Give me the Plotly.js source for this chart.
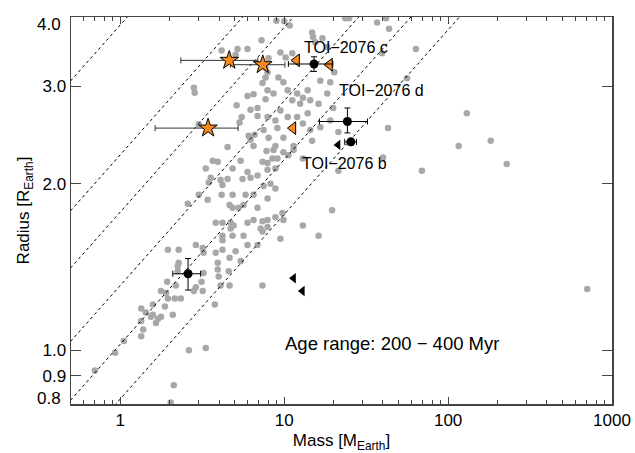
<!DOCTYPE html>
<html>
<head>
<meta charset="utf-8">
<script src="https://cdn.plot.ly/plotly-3.0.1.min.js"></script>
<style>html,body{margin:0;padding:0;background:#fff;}#chart{width:635px;height:453px;}</style>
</head>
<body>
<div id="chart"></div>
<script>
// Comparison sample (gray)
const grayMass = [
4.15,5.19,5.97,5.05,2.81,2.84,5.97,6.50,5.12,6.23,6.87,5.50,6.87,5.34,3.01,6.06,6.59,6.23,
7.27,8.96,10.0,10.8,23.6,24.9,14.8,15.0,15.5,17.1,18.3,9.48,10.2,11.2,8.02,7.69,7.91,7.69,7.37,7.91,7.69,9.22,9.89,8.60,10.5,12.0,11.2,13.0,12.5,14.4,16.2,13.9,18.3,16.6,19.1,9.48,7.91,8.84,10.5,12.0,13.9,13.0,9.09,7.48,14.4,16.6,8.02,9.89,19.1,20.2,19.9,21.4,
36.9,41.8,43.6,39.5,63.6,56.1,130,43.0,116,182,40.1,69.2,228,706,
4.51,6.50,3.66,3.93,5.42,3.32,4.84,5.97,6.23,6.87,5.57,3.56,4.09,4.51,4.20,3.46,3.01,3.41,4.15,4.84,5.81,6.50,2.58,4.64,4.84,5.27,5.65,6.87,3.82,4.20,4.71,4.91,4.71,5.97,6.50,4.20,4.84,5.65,4.20,6.87,2.89,3.18,3.22,1.95,2.27,3.82,4.20,5.05,5.97,
8.84,11.4,11.4,14.8,7.80,8.60,9.89,10.6,8.48,9.09,7.37,7.91,7.91,8.84,13.0,21.4,8.25,7.48,8.84,7.91,19.6,9.75,8.84,7.91,7.37,9.89,7.91,7.17,7.37,13.0,16.2,9.48,
2.24,2.24,2.18,1.93,1.77,1.90,1.95,2.15,2.34,1.87,1.58,1.34,1.43,1.58,1.54,1.70,1.77,2.09,1.34,1.65,1.38,1.34,1.05,0.93,0.70,2.62,3.32,2.12,2.03,2.89,3.13,3.18,2.81,2.27,3.22,
4.64,3.93,3.93,4.58,4.09,4.64,7.37,3.77,5.42,3.98
];
const grayRadius = [
3.48,3.50,3.50,3.42,2.98,2.92,2.88,2.90,2.77,2.72,2.74,2.64,2.65,2.58,2.56,2.44,2.45,2.40,
3.63,3.94,3.93,3.86,3.98,3.98,3.75,3.68,3.60,3.66,3.53,3.45,3.38,3.44,3.37,3.24,3.18,3.11,3.04,2.95,2.84,3.11,3.05,2.91,2.95,2.91,2.83,2.86,2.79,2.83,2.79,2.95,2.91,3.07,3.05,2.71,2.64,2.60,2.64,2.64,2.68,2.57,2.52,2.50,2.50,2.53,2.42,2.42,2.60,3.18,2.74,2.48,
3.91,3.98,3.81,3.44,3.50,3.10,2.68,2.52,2.34,2.39,2.23,2.11,2.17,1.29,
2.33,2.34,2.20,2.19,2.20,2.13,2.13,2.10,2.05,2.07,2.04,2.05,2.03,2.04,1.99,2.01,1.91,1.87,1.91,1.91,1.91,1.91,1.84,1.83,1.81,1.81,1.83,1.81,1.70,1.70,1.70,1.68,1.66,1.70,1.72,1.61,1.61,1.61,1.58,1.55,1.55,1.53,1.50,1.52,1.52,1.50,1.52,1.51,1.55,
2.34,2.34,2.30,2.39,2.29,2.30,2.28,2.25,2.22,2.22,2.19,2.18,2.12,2.13,2.22,2.11,2.00,1.98,1.96,1.88,1.79,1.77,1.74,1.72,1.71,1.72,1.67,1.66,1.64,1.68,1.61,1.59,
1.42,1.39,1.31,1.33,1.28,1.27,1.24,1.24,1.24,1.20,1.21,1.19,1.17,1.16,1.15,1.14,1.15,1.16,1.13,1.12,1.09,1.06,1.04,0.99,0.92,1.00,1.01,0.865,0.805,1.30,1.33,1.28,1.28,1.44,1.38,
1.47,1.44,1.40,1.39,1.31,1.31,1.31,1.21,1.45,1.36
];

// Constant-density lines (g/cm^3)
const densities = [0.095, 0.48, 0.98, 2.45, 5.1, 10.1];
const earthDensity = 5.51;
const lineMassEnds = [0.3, 2000];

// Orange stars with mass errors
const starMass = [4.62, 7.40, 3.43];
const starRadius = [3.34, 3.28, 2.52];
const starMassErr = [2.28, 2.70, 1.80];

// Orange upper limits
const orangeLimMass = [11.9, 18.9, 11.3];
const orangeLimRadius = [3.34, 3.28, 2.52];

// Black upper limits
const blackLimMass = [21.3, 11.4, 12.9];
const blackLimRadius = [2.35, 1.35, 1.28];

// Black circles: TOI-2076 c, d, b and one more planet
const circleMass = [15.2, 24.3, 25.5, 2.59];
const circleMassErr = [4.6, 7.9, 2.1, 0.5];
const circleRadius = [3.29, 2.59, 2.38, 1.375];
const circleRadiusErrPlus = [0.10, 0.15, 0.03, 0.09];
const circleRadiusErrMinus = [0.10, 0.12, 0.03, 0.09];

const xTickVals = [1, 10, 100, 1000];
const xTickText = ['1', '10', '100', '1000'];
const yTickVals = [0.8, 0.9, 1.0, 2.0, 3.0, 4.0];
const yTickText = ['', '0.9', '1.0', '2.0', '3.0', ''];   // end labels drawn inset below
const yEndLabels = ['0.8', '4.0'];

const FONT = 'Liberation Sans, Arial, Helvetica, sans-serif';
const AXC = '#444';

const traces = [];
traces.push({
  x: grayMass, y: grayRadius, type: 'scatter', mode: 'markers',
  marker: {color: '#a8a8a8', size: 6.5}, hoverinfo: 'skip', showlegend: false
});
densities.forEach(function(rho){
  const k = rho / earthDensity;
  traces.push({
    x: lineMassEnds, y: lineMassEnds.map(function(m){ return Math.cbrt(m / k); }),
    type: 'scatter', mode: 'lines',
    line: {color: '#000', width: 1, dash: '3px,3px'}, hoverinfo: 'skip', showlegend: false
  });
});
traces.push({
  x: starMass, y: starRadius, type: 'scatter', mode: 'markers',
  error_x: {type: 'data', array: starMassErr, color: '#333', thickness: 1, width: 3},
  marker: {symbol: 'star', size: 14, color: '#f7891f', line: {color: '#000', width: 1}},
  showlegend: false
});
traces.push({
  x: orangeLimMass, y: orangeLimRadius, type: 'scatter', mode: 'markers',
  marker: {symbol: 'triangle-left', size: 11, color: '#f7891f', line: {color: '#000', width: 1}},
  showlegend: false
});
traces.push({
  x: blackLimMass, y: blackLimRadius, type: 'scatter', mode: 'markers',
  marker: {symbol: 'triangle-left', size: 9, color: '#000'},
  showlegend: false
});
traces.push({
  x: circleMass, y: circleRadius, type: 'scatter', mode: 'markers',
  error_x: {type: 'data', array: circleMassErr, color: '#000', thickness: 1, width: 3},
  error_y: {type: 'data', array: circleRadiusErrPlus, arrayminus: circleRadiusErrMinus, color: '#000', thickness: 1, width: 3},
  marker: {symbol: 'circle', size: 9, color: '#000'},
  showlegend: false
});
// empty traces so the mirrored top / right axes get drawn
traces.push({x: [], y: [], xaxis: 'x2', yaxis: 'y', type: 'scatter', mode: 'markers', showlegend: false, hoverinfo: 'skip'});
traces.push({x: [], y: [], xaxis: 'x', yaxis: 'y2', type: 'scatter', mode: 'markers', showlegend: false, hoverinfo: 'skip'});

function minorVals(){
  const v = [];
  [0.1, 1, 10, 100].forEach(function(d){ for (let i = 2; i <= 9; i++) v.push(i * d); });
  return v;
}

const xRange = [Math.log10(0.5), 3];
const yRange = [Math.log10(0.8), Math.log10(4)];
const tickFont = {family: FONT, size: 17, color: '#000'};

const layout = {
  width: 635, height: 453,
  margin: {l: 71, r: 23, t: 17, b: 49},
  paper_bgcolor: '#fff', plot_bgcolor: '#fff',
  font: {family: FONT, color: '#000'},
  showlegend: false,
  xaxis: {
    type: 'log', range: xRange, showgrid: false, zeroline: false,
    showline: true, linecolor: AXC, linewidth: 1.5, mirror: false,
    ticks: 'inside', tickcolor: AXC, tickwidth: 1.2, ticklen: 7,
    tickmode: 'array', tickvals: xTickVals, ticktext: xTickText, tickfont: tickFont,
    minor: {tickmode: 'array', tickvals: minorVals(), ticks: 'inside', ticklen: 4, tickcolor: AXC, tickwidth: 1},
    title: {text: 'Mass [M<sub>Earth</sub>]', font: {family: FONT, size: 17}, standoff: 6}
  },
  xaxis2: {
    type: 'log', range: xRange, overlaying: 'x', side: 'top', anchor: 'y',
    showgrid: false, zeroline: false, showline: true, linecolor: AXC, linewidth: 1.5,
    ticks: 'inside', tickcolor: AXC, tickwidth: 1.2, ticklen: 7,
    tickmode: 'array', tickvals: xTickVals, showticklabels: false,
    minor: {tickmode: 'array', tickvals: minorVals(), ticks: 'inside', ticklen: 4, tickcolor: AXC, tickwidth: 1}
  },
  yaxis: {
    type: 'log', range: yRange, showgrid: false, zeroline: false,
    showline: true, linecolor: AXC, linewidth: 1.5, mirror: false,
    ticks: 'inside', tickcolor: AXC, tickwidth: 1.2, ticklen: 10,
    tickmode: 'array', tickvals: yTickVals, ticktext: yTickText, tickfont: tickFont,
    title: {text: 'Radius [R<sub>Earth</sub>]', font: {family: FONT, size: 17}, standoff: 8}
  },
  yaxis2: {
    type: 'log', range: yRange, overlaying: 'y', side: 'right', anchor: 'x',
    showgrid: false, zeroline: false, showline: true, linecolor: AXC, linewidth: 1.5,
    ticks: 'inside', tickcolor: AXC, tickwidth: 1.2, ticklen: 10,
    tickmode: 'array', tickvals: yTickVals, showticklabels: false
  },
  annotations: [
    {xref: 'paper', yref: 'paper', x: -0.0148, y: 0.0142, xanchor: 'right', yanchor: 'middle', showarrow: false,
     text: yEndLabels[0], font: tickFont},
    {xref: 'paper', yref: 'paper', x: -0.0148, y: 0.9805, xanchor: 'right', yanchor: 'middle', showarrow: false,
     text: yEndLabels[1], font: tickFont},
    {xref: 'paper', yref: 'paper', x: 0.4275, y: 0.9207, xanchor: 'left', yanchor: 'middle', showarrow: false,
     text: 'TOI\u22122076 c', font: {family: FONT, size: 16, color: '#000'}},
    {xref: 'paper', yref: 'paper', x: 0.4909, y: 0.8104, xanchor: 'left', yanchor: 'middle', showarrow: false,
     text: 'TOI\u22122076 d', font: {family: FONT, size: 16, color: '#000'}},
    {xref: 'paper', yref: 'paper', x: 0.4233, y: 0.6210, xanchor: 'left', yanchor: 'middle', showarrow: false,
     text: 'TOI\u22122076 b', font: {family: FONT, size: 16, color: '#000'}},
    {xref: 'paper', yref: 'paper', x: 0.3917, y: 0.156, xanchor: 'left', yanchor: 'middle', showarrow: false,
     text: 'Age range: 200 \u2212 400 Myr', font: {family: FONT, size: 18.5, color: '#000'}}
  ]
};

Plotly.newPlot('chart', traces, layout, {staticPlot: true, displayModeBar: false});
</script>
</body>
</html>
